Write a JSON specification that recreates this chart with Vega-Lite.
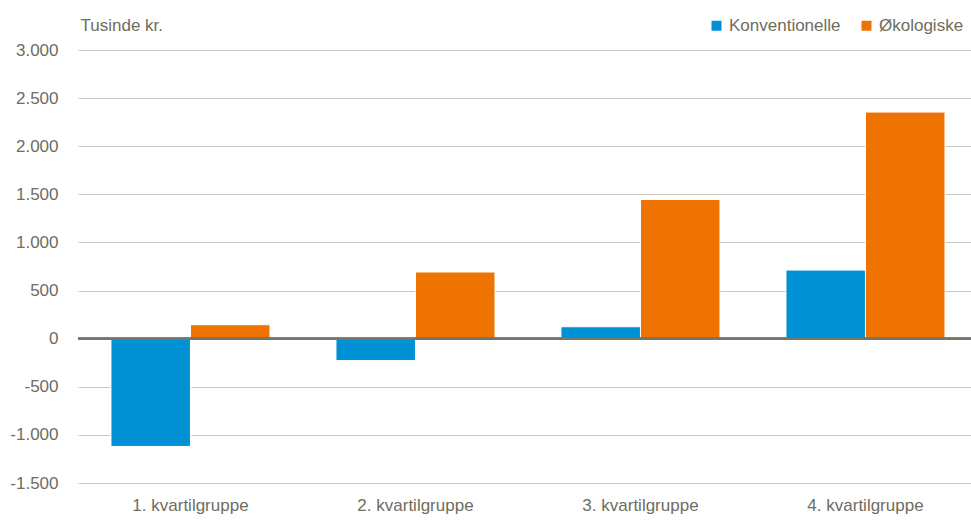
{
  "$schema": "https://vega.github.io/schema/vega-lite/v6.json",
  "width": 893,
  "height": 433,
  "autosize": "none",
  "padding": {"left": 78, "top": 50, "right": 0, "bottom": 37},
  "config": {"font": "Liberation Sans", "view": {"stroke": null}},
  "data": {
    "values": [
      {"gruppe": "1. kvartilgruppe", "type": "Konventionelle", "value": -1120},
      {"gruppe": "1. kvartilgruppe", "type": "Økologiske", "value": 145},
      {"gruppe": "2. kvartilgruppe", "type": "Konventionelle", "value": -228},
      {"gruppe": "2. kvartilgruppe", "type": "Økologiske", "value": 693},
      {"gruppe": "3. kvartilgruppe", "type": "Konventionelle", "value": 124},
      {"gruppe": "3. kvartilgruppe", "type": "Økologiske", "value": 1446},
      {"gruppe": "4. kvartilgruppe", "type": "Konventionelle", "value": 713},
      {"gruppe": "4. kvartilgruppe", "type": "Økologiske", "value": 2355}
    ]
  },
  "layer": [
    {
      "mark": {"type": "bar", "stroke": "#ffffff", "strokeWidth": 1},
      "encoding": {
        "x": {
          "field": "gruppe",
          "type": "nominal",
          "sort": null,
          "scale": {"paddingInner": 0.2933, "paddingOuter": 0.1311, "align": 0.559},
          "axis": {
            "title": null,
            "domain": false,
            "ticks": false,
            "labelAngle": 0,
            "labelFontSize": 17,
            "labelColor": "#6e6d60",
            "labelPadding": 14
          }
        },
        "xOffset": {"field": "type", "sort": ["Konventionelle", "Økologiske"]},
        "y": {
          "field": "value",
          "type": "quantitative",
          "scale": {"domain": [-1500, 3000], "nice": false},
          "axis": {
            "values": [-1500, -1000, -500, 0, 500, 1000, 1500, 2000, 2500, 3000],
            "labelExpr": "replace(replace(format(datum.value, ','), /,/g, '.'), /−/g, '-')",
            "domain": false,
            "ticks": false,
            "grid": true,
            "gridColor": "#cbc9bf",
            "gridWidth": 1,
            "labelFontSize": 17,
            "labelColor": "#6e6d60",
            "labelPadding": 20,
            "title": "Tusinde kr.",
            "titleAngle": 0,
            "titleAlign": "left",
            "titleBaseline": "middle",
            "titleX": 2,
            "titleY": -25,
            "titleFontSize": 17,
            "titleFontWeight": "normal",
            "titleColor": "#6e6d60"
          }
        },
        "color": {
          "field": "type",
          "type": "nominal",
          "scale": {"domain": ["Konventionelle", "Økologiske"], "range": ["#0090d4", "#ef7300"]},
          "legend": {
            "title": null,
            "orient": "none",
            "legendX": 630,
            "legendY": -33,
            "direction": "horizontal",
            "symbolType": "square",
            "symbolSize": 100,
            "symbolStrokeWidth": 0,
            "labelFontSize": 17,
            "labelColor": "#6e6d60",
            "labelOffset": 4,
            "columnPadding": 17
          }
        }
      }
    },
    {
      "mark": {"type": "rule", "color": "#77766a", "strokeWidth": 2},
      "encoding": {"y": {"datum": 0}}
    }
  ]
}
